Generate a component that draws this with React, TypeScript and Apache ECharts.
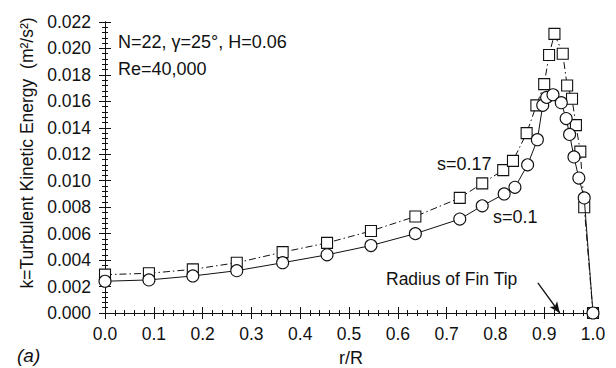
import React, { useEffect, useRef } from "react";
import * as echarts from "echarts";

// Radial position (r/R) and turbulent kinetic energy for the two clearances
const rS017 = [0, 0.09, 0.18, 0.27, 0.364, 0.455, 0.545, 0.636, 0.727, 0.773, 0.816, 0.836, 0.864, 0.884, 0.9, 0.91, 0.921, 0.938, 0.947, 0.957, 0.965, 0.974, 0.982, 1.0];
const kS017 = [0.0029, 0.0030, 0.0033, 0.0038, 0.0046, 0.0053, 0.0062, 0.0073, 0.0087, 0.0098, 0.0108, 0.0115, 0.0136, 0.0157, 0.0173, 0.0195, 0.0211, 0.0196, 0.0172, 0.0162, 0.0142, 0.0122, 0.0080, 0.0];

const rS01 = [0, 0.09, 0.18, 0.27, 0.364, 0.455, 0.545, 0.636, 0.727, 0.773, 0.818, 0.84, 0.866, 0.886, 0.897, 0.905, 0.918, 0.935, 0.945, 0.952, 0.961, 0.971, 0.982, 1.0];
const kS01 = [0.0024, 0.0025, 0.0028, 0.0032, 0.0038, 0.0044, 0.0051, 0.0060, 0.0071, 0.0081, 0.0090, 0.0095, 0.0112, 0.0131, 0.0157, 0.0163, 0.0165, 0.0159, 0.0147, 0.0135, 0.0118, 0.0102, 0.0087, 0.0];

// Arrow pointing at the fin-tip radius on the r/R axis
const finTipArrow = [[0.887, 0.00227], [0.932, 0.0]];

const FONT = '"Liberation Sans", Arial, sans-serif';
const INK = "#111";

export default function App() {
  const ref = useRef<HTMLDivElement>(null);

  useEffect(() => {
    document.body.style.margin = "0";
    if (!ref.current) return;
    const chart = echarts.init(ref.current, undefined, { renderer: "svg" });

    const axisCommon = {
      axisLine: { show: true, lineStyle: { color: INK, width: 1 } },
      axisTick: { show: true, inside: true, length: 6, lineStyle: { color: INK, width: 1 } },
      minorTick: { show: true, splitNumber: 5, length: 3, lineStyle: { color: INK, width: 1 } },
      splitLine: { show: false },
    };

    const pairs = (xs: number[], ys: number[]) => xs.map((x, i) => [x, ys[i]]);

    chart.setOption({
      animation: false,
      backgroundColor: "#fff",
      grid: { left: 105, right: 23, top: 22, bottom: 55 },
      xAxis: [
        {
          type: "value",
          min: 0,
          max: 1,
          interval: 0.1,
          position: "bottom",
          ...axisCommon,
          axisLabel: {
            margin: 12,
            color: INK,
            fontFamily: FONT,
            fontSize: 17.5,
            formatter: (v: number) => v.toFixed(1),
          },
        },
        {
          type: "value",
          min: 0,
          max: 1,
          interval: 0.1,
          position: "top",
          ...axisCommon,
          axisLabel: { show: false },
        },
      ],
      yAxis: [
        {
          type: "value",
          min: 0,
          max: 0.022,
          interval: 0.002,
          position: "left",
          ...axisCommon,
          axisLabel: {
            margin: 14,
            color: INK,
            fontFamily: FONT,
            fontSize: 17.5,
            formatter: (v: number) => v.toFixed(3),
          },
        },
        {
          type: "value",
          min: 0,
          max: 0.022,
          interval: 0.002,
          position: "right",
          ...axisCommon,
          axisLabel: { show: false },
        },
      ],
      series: [
        {
          name: "s=0.17",
          type: "line",
          data: pairs(rS017, kS017),
          symbol: "rect",
          symbolSize: 11,
          showSymbol: true,
          itemStyle: { color: "#fff", borderColor: INK, borderWidth: 1.1 },
          lineStyle: { color: INK, width: 1, type: [7, 3, 1.5, 3] },
          z: 2,
          markLine: {
            silent: true,
            symbol: ["none", "arrow"],
            symbolSize: [7, 11],
            label: { show: false },
            lineStyle: { color: INK, width: 1.3, type: "solid" },
            data: [[{ coord: finTipArrow[0] }, { coord: finTipArrow[1] }]],
          },
        },
        {
          name: "s=0.1",
          type: "line",
          data: pairs(rS01, kS01),
          symbol: "circle",
          symbolSize: 12,
          showSymbol: true,
          itemStyle: { color: "#fff", borderColor: INK, borderWidth: 1.1 },
          lineStyle: { color: INK, width: 1, type: "solid" },
          z: 3,
        },
      ],
      graphic: [
        {
          type: "text",
          x: 27,
          y: 153,
          rotation: Math.PI / 2,
          style: {
            text: "k=Turbulent Kinetic Energy  (m²/s²)",
            font: `17.5px ${FONT}`,
            fill: INK,
            align: "center",
            verticalAlign: "middle",
          },
        },
        {
          type: "text",
          x: 351,
          y: 358,
          style: { text: "r/R", font: `18px ${FONT}`, fill: INK, align: "center", verticalAlign: "middle" },
        },
        {
          type: "text",
          x: 17,
          y: 355,
          style: { text: "(a)", font: `italic 19px ${FONT}`, fill: INK, align: "left", verticalAlign: "middle" },
        },
        {
          type: "text",
          x: 118,
          y: 42,
          style: { text: "N=22, γ=25°, H=0.06", font: `18px ${FONT}`, fill: INK, align: "left", verticalAlign: "middle" },
        },
        {
          type: "text",
          x: 118,
          y: 69,
          style: { text: "Re=40,000", font: `18px ${FONT}`, fill: INK, align: "left", verticalAlign: "middle" },
        },
        {
          type: "text",
          x: 437,
          y: 164,
          style: { text: "s=0.17", font: `18px ${FONT}`, fill: INK, align: "left", verticalAlign: "middle" },
        },
        {
          type: "text",
          x: 493,
          y: 217,
          style: { text: "s=0.1", font: `18px ${FONT}`, fill: INK, align: "left", verticalAlign: "middle" },
        },
        {
          type: "text",
          x: 386,
          y: 279,
          style: { text: "Radius of Fin Tip", font: `17.5px ${FONT}`, fill: INK, align: "left", verticalAlign: "middle" },
        },
      ],
    });

    return () => chart.dispose();
  }, []);

  return <div ref={ref} style={{ width: 616, height: 368 }} />;
}
